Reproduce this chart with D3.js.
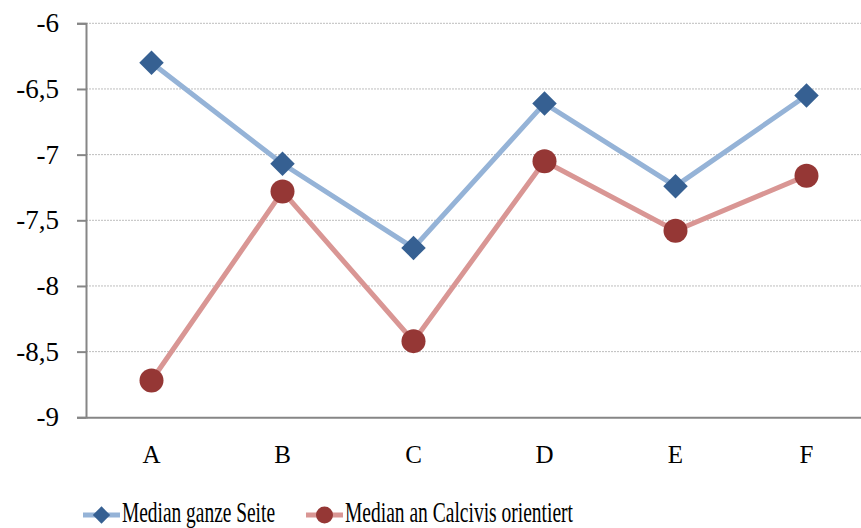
<!DOCTYPE html>
<html>
<head>
<meta charset="utf-8">
<script src="https://cdn.jsdelivr.net/npm/d3@7"></script>
<style>
  html, body { margin: 0; padding: 0; background: #fff; }
  svg { display: block; }
  text { font-family: "Liberation Serif", "DejaVu Serif", serif; fill: #000; }
</style>
</head>
<body>
<svg id="chart" width="861" height="528"></svg>
<script>
// Categories and the two median series
const categories = ["A", "B", "C", "D", "E", "F"];
const medianGanzeSeite = [-6.30, -7.07, -7.71, -6.61, -7.24, -6.55];
const medianCalcivis = [-8.72, -7.28, -8.42, -7.05, -7.58, -7.16];
const yTicks = [-6, -6.5, -7, -7.5, -8, -8.5, -9];
const seriesNames = ["Median ganze Seite", "Median an Calcivis orientiert"];

const svg = d3.select("#chart");
const plot = { left: 86, right: 872, top: 23.3, bottom: 417.3 };
const serif = "'Liberation Serif', 'DejaVu Serif', serif";

const x = d3.scaleBand().domain(categories).range([plot.left, plot.right]);
const y = d3.scaleLinear().domain([-9, -6]).range([plot.bottom, plot.top]);
const fmt = d => String(d).replace(".", ",");

// horizontal gridlines
svg.append("g")
  .selectAll("line")
  .data(yTicks.filter(t => t !== -9))
  .join("line")
  .attr("x1", plot.left).attr("x2", plot.right)
  .attr("y1", d => y(d)).attr("y2", d => y(d))
  .attr("stroke", "#bdbdbd").attr("stroke-width", 1)
  .attr("stroke-dasharray", "2,1");

// y axis
const yAxis = svg.append("g")
  .attr("transform", `translate(${plot.left},0)`)
  .call(d3.axisLeft(y).tickValues(yTicks).tickFormat(fmt).tickSize(9).tickPadding(18))
  .attr("font-family", serif).attr("font-size", 27);
yAxis.select(".domain").attr("stroke", "#868686").attr("stroke-width", 2);
yAxis.selectAll(".tick line").attr("stroke", "#868686").attr("stroke-width", 2);
yAxis.selectAll(".tick text").attr("fill", "#000");

// x axis
const xAxis = svg.append("g")
  .attr("transform", `translate(0,${plot.bottom})`)
  .call(d3.axisBottom(x).tickSize(0).tickPadding(28))
  .attr("font-family", serif).attr("font-size", 25);
xAxis.select(".domain").attr("stroke", "#868686").attr("stroke-width", 2);
xAxis.selectAll(".tick text").attr("fill", "#000");

const line = d3.line()
  .x((d, i) => x(categories[i]) + x.bandwidth() / 2)
  .y(d => y(d));

const diamond = d3.symbol().type(d3.symbolSquare).size(300);

// red series
svg.append("path").datum(medianCalcivis)
  .attr("d", line).attr("fill", "none")
  .attr("stroke", "#d99694").attr("stroke-width", 5);
svg.append("g").selectAll("circle").data(medianCalcivis).join("circle")
  .attr("cx", (d, i) => x(categories[i]) + x.bandwidth() / 2)
  .attr("cy", d => y(d)).attr("r", 12)
  .attr("fill", "#953735");

// blue series
svg.append("path").datum(medianGanzeSeite)
  .attr("d", line).attr("fill", "none")
  .attr("stroke", "#95b3d7").attr("stroke-width", 5);
svg.append("g").selectAll("path").data(medianGanzeSeite).join("path")
  .attr("d", diamond)
  .attr("transform", (d, i) => `translate(${x(categories[i]) + x.bandwidth() / 2},${y(d)}) rotate(45)`)
  .attr("fill", "#366092");

// legend
const legY = 515;
const leg = [
  { x0: 83, x1: 120, text: seriesNames[0], tx: 122, tw: 153, line: "#95b3d7", mark: "#366092", shape: "diamond" },
  { x0: 306, x1: 343, text: seriesNames[1], tx: 345, tw: 228, line: "#d99694", mark: "#953735", shape: "circle" }
];
leg.forEach(l => {
  const g = svg.append("g");
  g.append("line").attr("x1", l.x0).attr("x2", l.x1).attr("y1", legY).attr("y2", legY)
    .attr("stroke", l.line).attr("stroke-width", 5);
  const cx = (l.x0 + l.x1) / 2;
  if (l.shape === "diamond") {
    g.append("path").attr("d", d3.symbol().type(d3.symbolSquare).size(150))
      .attr("transform", `translate(${cx},${legY}) rotate(45)`).attr("fill", l.mark);
  } else {
    g.append("circle").attr("cx", cx).attr("cy", legY).attr("r", 8.5).attr("fill", l.mark);
  }
  g.append("text").attr("x", l.tx).attr("y", legY + 7)
    .attr("textLength", l.tw).attr("lengthAdjust", "spacingAndGlyphs")
    .attr("font-family", serif).style("font-size", "29px").text(l.text);
});
</script>
</body>
</html>
